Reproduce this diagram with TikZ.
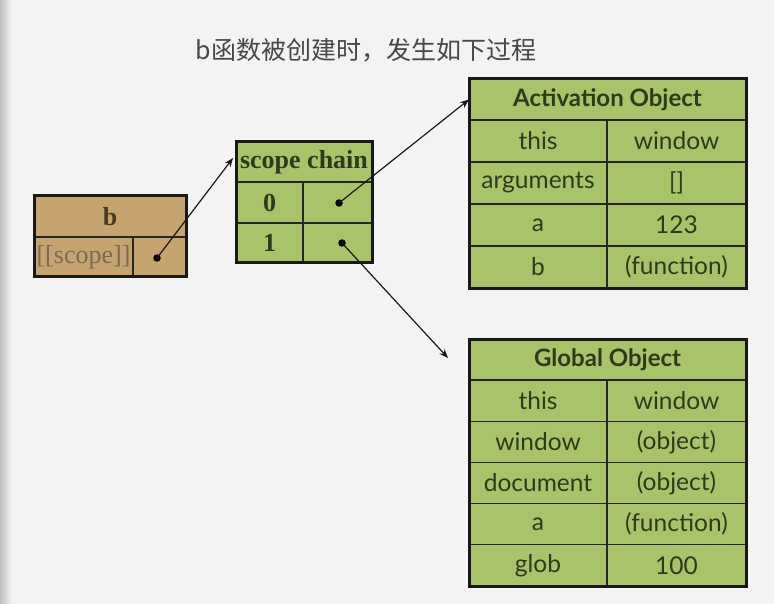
\documentclass[tikz,border=0pt]{standalone}
\usepackage{fontspec}
\setmainfont{Lato}
\newfontfamily\cjk{Noto Sans CJK SC}
\newfontfamily\serifb{Liberation Serif}
\usetikzlibrary{arrows.meta}
\definecolor{bg}{HTML}{F3F3F3}
\definecolor{grn}{HTML}{A9C36B}
\definecolor{tanc}{HTML}{C6A470}
\definecolor{ink}{HTML}{2E3A1C}
\definecolor{tink}{HTML}{4A3A1E}
\begin{document}
\begin{tikzpicture}[x=1pt,y=-1pt,
  gcell/.style={draw=black!85, line width=1.3pt, fill=grn, inner sep=0pt, outer sep=0pt, anchor=north west, text=ink, font=\fontsize{24.5}{24.5}\selectfont},
  ghead/.style={gcell, font=\bfseries\fontsize{24}{24}\selectfont},
  shead/.style={gcell, font=\serifb\bfseries\fontsize{26}{26}\selectfont},
  tcell/.style={gcell, fill=tanc, text=tink},
  frame/.style={draw=black!90, line width=3pt},
  dot/.style={circle, fill=black, inner sep=0pt, minimum size=7.5pt},
  arr/.style={draw=black!90, line width=1.2pt, -{Stealth[length=9pt,width=7pt]}}]
\useasboundingbox (0,0) rectangle (774,604);
\fill[bg] (0,0) rectangle (774,604);
\shade[left color=black!25, right color=bg] (0,0) rectangle (12,604);
% title
\node[font=\cjk\fontsize{25}{25}\selectfont, text=black!72] (title) at (366,50) {b函数被创建时，发生如下过程};
% b box
\node[tcell, font=\serifb\bfseries\fontsize{26}{26}\selectfont, minimum width=152pt, minimum height=41pt] (bh) at (34,196) {b};
\node[tcell, font=\serifb\fontsize{26}{26}\selectfont, text=tink!75, minimum width=99pt, minimum height=40pt] (bl) at (34,237) {[[scope]]};
\node[tcell, minimum width=53pt, minimum height=40pt] (br) at (133,237) {};
\draw[frame] (bh.north west) rectangle (br.south east);
% scope chain
\node[shead, minimum width=136pt, minimum height=40pt] (sh) at (236,142) {scope chain};
\node[shead, minimum width=67pt, minimum height=41pt] (s0l) at (236,182) {0};
\node[gcell, minimum width=69pt, minimum height=41pt] (s0r) at (303,182) {};
\node[shead, minimum width=67pt, minimum height=40pt] (s1l) at (236,223) {1};
\node[gcell, minimum width=69pt, minimum height=40pt] (s1r) at (303,223) {};
\draw[frame] (sh.north west) rectangle (s1r.south east);
% activation object
\node[ghead, minimum width=277pt, minimum height=41pt] (ah) at (469,79) {Activation Object};
\node[gcell, minimum width=138pt, minimum height=42pt] (a1l) at (469,120) {this};
\node[gcell, minimum width=139pt, minimum height=42pt] (a1r) at (607,120) {window};
\node[gcell, minimum width=138pt, minimum height=42pt] (a2l) at (469,162) {arguments};
\node[gcell, minimum width=139pt, minimum height=42pt] (a2r) at (607,162) {[]};
\node[gcell, minimum width=138pt, minimum height=42pt] (a3l) at (469,204) {a};
\node[gcell, minimum width=139pt, minimum height=42pt] (a3r) at (607,204) {123};
\node[gcell, minimum width=138pt, minimum height=42pt] (a4l) at (469,246) {b};
\node[gcell, minimum width=139pt, minimum height=42pt] (a4r) at (607,246) {(function)};
\draw[frame] (ah.north west) rectangle (a4r.south east);
% global object
\node[ghead, minimum width=277pt, minimum height=41pt] (gh) at (469,339) {Global Object};
\node[gcell, minimum width=138pt, minimum height=41.2pt] (g1l) at (469,380) {this};
\node[gcell, minimum width=139pt, minimum height=41.2pt] (g1r) at (607,380) {window};
\node[gcell, minimum width=138pt, minimum height=41.2pt] (g2l) at (469,421.2) {window};
\node[gcell, minimum width=139pt, minimum height=41.2pt] (g2r) at (607,421.2) {(object)};
\node[gcell, minimum width=138pt, minimum height=41.2pt] (g3l) at (469,462.4) {document};
\node[gcell, minimum width=139pt, minimum height=41.2pt] (g3r) at (607,462.4) {(object)};
\node[gcell, minimum width=138pt, minimum height=41.2pt] (g4l) at (469,503.6) {a};
\node[gcell, minimum width=139pt, minimum height=41.2pt] (g4r) at (607,503.6) {(function)};
\node[gcell, minimum width=138pt, minimum height=41.2pt] (g5l) at (469,544.8) {glob};
\node[gcell, minimum width=139pt, minimum height=41.2pt] (g5r) at (607,544.8) {100};
\draw[frame] (gh.north west) rectangle (g5r.south east);
% dots and arrows
\node[dot] (db) at (157,258) {};
\node[dot] (d0) at (339,203) {};
\node[dot] (d1) at (342,243) {};
\coordinate (sin) at (233,158);
\coordinate (gin) at (448,358);
\draw[arr] (db.center) -- (sin);
\draw[arr] (d0.center) -- (ah.west);
\draw[arr] (d1.center) -- (gin);
\end{tikzpicture}
\end{document}
